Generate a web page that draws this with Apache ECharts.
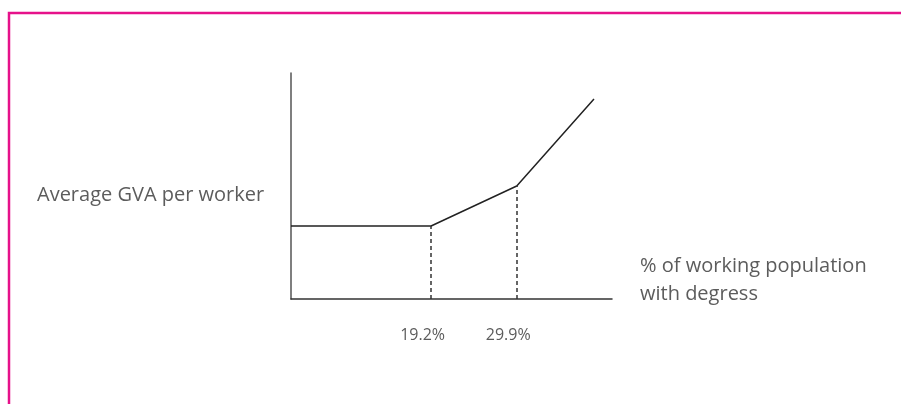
<!DOCTYPE html>
<html>
<head>
<meta charset="utf-8">
<script src="https://cdn.jsdelivr.net/npm/echarts@6/dist/echarts.min.js"></script>
<style>html,body{margin:0;padding:0;background:#fff}#c{width:901px;height:404px}</style>
</head>
<body>
<div id="c"></div>
<script>
// schematic data: % of working population with degrees vs average GVA per worker (index)
var xValues = [1.7, 19.2, 29.9, 39.55];
var yValues = [32.3, 32.3, 50, 88.5];
var kneeX = [19.2, 29.9];
var kneeY = [32.3, 50];
var tickLabels = ['19.2%', '29.9%'];
var xAxisTitle = '% of working population\nwith degress';
var yAxisTitle = 'Average GVA per worker';

var chart = echarts.init(document.getElementById('c'));
var lineData = xValues.map(function (x, i) { return [x, yValues[i]]; });
var dashLines = kneeX.map(function (x, i) {
  return [{ coord: [x, 0] }, { coord: [x, kneeY[i]] }];
});
var font = '"Open Sans", "Noto Sans", sans-serif';
chart.setOption({
  animation: false,
  grid: { left: 291, top: 73, right: 289, bottom: 105 },
  xAxis: {
    type: 'value', min: 1.7, max: 41.8,
    axisLine: { show: true, lineStyle: { color: '#333', width: 1.5 } },
    axisTick: { show: false },
    splitLine: { show: false },
    axisLabel: {
      customValues: kneeX,
      formatter: function (v) { return tickLabels[kneeX.indexOf(v)] || ''; },
      margin: 28, color: '#5c5c5c', fontSize: 16, fontFamily: font,
      padding: [0, 17, 0, 0]
    }
  },
  yAxis: {
    type: 'value', min: 0, max: 100,
    axisLine: { show: true, lineStyle: { color: '#555', width: 1.5 } },
    axisTick: { show: false },
    splitLine: { show: false },
    axisLabel: { show: false }
  },
  series: [{
    type: 'line',
    data: lineData,
    symbol: 'none',
    lineStyle: { color: '#222', width: 1.5 },
    markLine: {
      silent: true, symbol: 'none', label: { show: false },
      lineStyle: { color: '#333', width: 1.5, type: [4, 3] },
      data: dashLines
    }
  }],
  graphic: [
    { type: 'polyline', shape: { points: [[9, 404], [9, 13], [901, 13]] },
      style: { stroke: '#E6118A', lineWidth: 2.5, fill: null } },
    { type: 'text', left: 37, top: 181,
      style: { text: yAxisTitle, fill: '#5c5c5c', font: '20px ' + font, lineHeight: 28 } },
    { type: 'text', left: 640, top: 252,
      style: { text: xAxisTitle, fill: '#5c5c5c', font: '20px ' + font, lineHeight: 28 } }
  ]
});
</script>
</body>
</html>
